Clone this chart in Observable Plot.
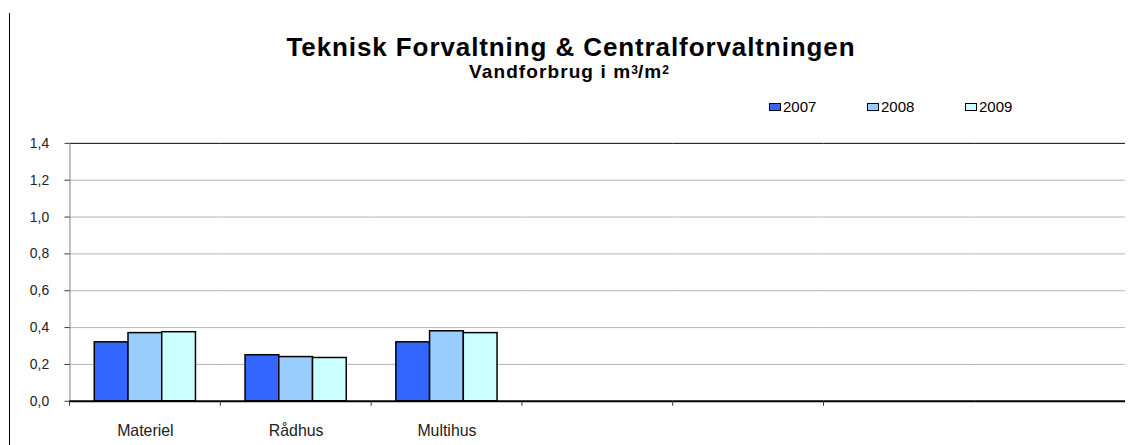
<!DOCTYPE html>
<html><head><meta charset="utf-8">
<script src="https://cdn.jsdelivr.net/npm/d3@7"></script>
<script src="https://cdn.jsdelivr.net/npm/@observablehq/plot@0.6"></script>
<style>
html,body{margin:0;padding:0;background:#fff;overflow:hidden;}
#wrap{position:relative;width:1128px;height:445px;overflow:hidden;font-family:"Liberation Sans",Arial,sans-serif;color:#000;}
#border{position:absolute;left:9px;top:13px;width:0;height:432px;border-left:1px solid #000;}
#title{position:absolute;left:0;width:1142px;top:33px;text-align:center;font-weight:bold;font-size:26px;letter-spacing:0.9px;line-height:28px;}
#subtitle{position:absolute;left:0;width:1138px;top:61px;text-align:center;font-weight:bold;font-size:19px;letter-spacing:1.1px;line-height:22px;}
#subtitle sup{font-size:12px;vertical-align:top;position:relative;top:-2px;letter-spacing:0;}
#legend{position:absolute;top:99px;left:769px;font-size:15px;line-height:16px;white-space:nowrap;}
.item{display:inline-block;width:98px;}
.sw{display:inline-block;width:10px;height:6px;border:1px solid #000;margin-right:2px;vertical-align:1px;}
#chart{position:absolute;left:0;top:125px;}
</style></head>
<body>
<div id="wrap">
  <div id="border"></div>
  <div id="title">Teknisk Forvaltning &amp; Centralforvaltningen</div>
  <div id="subtitle">Vandforbrug i m<sup>3</sup>/m<sup>2</sup></div>
  <div id="legend"></div>
  <div id="chart"></div>
</div>
<script>
const categories = ["Materiel", "Rådhus", "Multihus", " ", "  ", "   ", "    "];
const years = ["2007", "2008", "2009"];
const values2007 = [0.32, 0.25, 0.32];
const values2008 = [0.37, 0.24, 0.38];
const values2009 = [0.375, 0.235, 0.37];
const colors = ["#3366FF", "#99CCFF", "#CCFFFF"];
const yTicks = [0, 0.2, 0.4, 0.6, 0.8, 1.0, 1.2, 1.4];
const gridTicks = [0.2, 0.4, 0.6, 0.8, 1.0, 1.2];

const series = [values2007, values2008, values2009];
const data = [];
categories.forEach((c, i) => {
  years.forEach((y, j) => data.push({category: c, year: y, value: i < series[j].length ? series[j][i] : NaN}));
});

// legend
const legend = document.getElementById("legend");
years.forEach((y, j) => {
  const it = document.createElement("span");
  it.className = "item";
  it.innerHTML = `<span class="sw" style="background:${colors[j]}"></span>${y}`;
  legend.appendChild(it);
});

const W = 1137, ML = 67, MR = 0;
const step = (W - ML - MR) / categories.length;
const fmt = d => d.toFixed(1).replace(".", ",");

const chart = Plot.plot({
  width: W, height: 320,
  marginTop: 18, marginBottom: 42, marginLeft: ML, marginRight: MR,
  style: {fontFamily: "'Liberation Sans', Arial, sans-serif", fontSize: "14px", color: "#222", background: "transparent"},
  fx: {domain: categories, padding: 0, label: null},
  x: {domain: years, paddingInner: 0, paddingOuter: 0.73, axis: null},
  y: {domain: [0, 1.4], label: null},
  color: {domain: years, range: colors},
  marks: [
    Plot.ruleY(gridTicks, {stroke: "#b4b4b4", strokeWidth: 1}),
    Plot.ruleY([1.4], {stroke: "#000", strokeWidth: 1}),
    Plot.frame({anchor: "left", facetAnchor: "left", stroke: "#808080"}),
    Plot.axisY({ticks: yTicks, tickSize: 5, tickPadding: 16, tickFormat: fmt, fontSize: 14, label: null, stroke: "#333"}),
    Plot.barY(data, {fx: "category", x: "year", y: "value", fill: "year", stroke: "#000", strokeWidth: 1.5}),
    Plot.ruleY([0], {stroke: "#000", strokeWidth: 2}),
    Plot.axisFx({anchor: "bottom", ticks: categories.slice(0, 6), tickSize: 5, tickFormat: () => "", dx: -step / 2, label: null, stroke: "#333"}),
    Plot.axisFx({anchor: "bottom", tickSize: 0, tickPadding: 24, fontSize: 16, letterSpacing: "0.9px", label: null})
  ]
});
document.getElementById("chart").appendChild(chart);
</script>
</body></html>
